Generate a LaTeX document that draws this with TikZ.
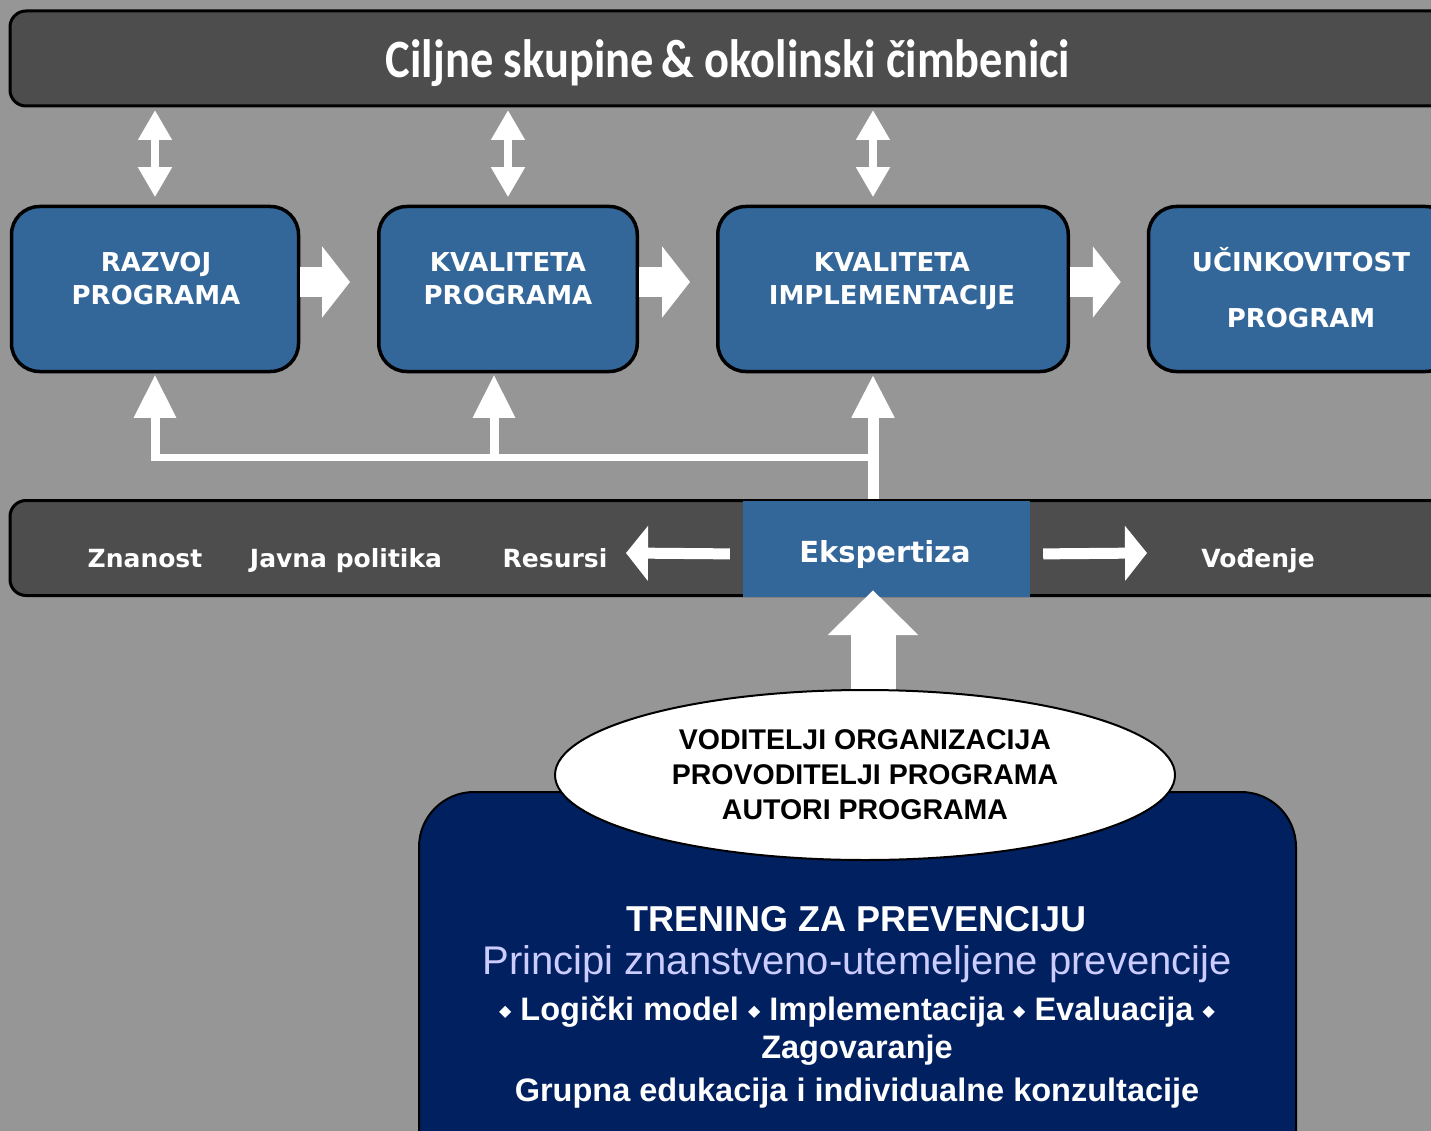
\documentclass[tikz,border=0pt]{standalone}
\usepackage{graphicx}
\usepackage{fontspec}
\setmainfont{Liberation Sans}
\newfontfamily\dejavu{DejaVu Sans}
\newfontfamily\carlito{Carlito}
\usetikzlibrary{arrows.meta,shapes.geometric}
\definecolor{bg}{HTML}{969696}
\definecolor{bar}{HTML}{4D4D4D}
\definecolor{steel}{HTML}{336699}
\definecolor{navy}{HTML}{002060}
\definecolor{lav}{HTML}{CCCCFF}
\begin{document}
\begin{tikzpicture}[x=1pt,y=-1pt,
  barbox/.style={draw=black,line width=3pt,fill=bar,rounded corners=16pt,inner sep=0pt,minimum height=95pt,minimum width=1470pt},
  stepbox/.style={draw=black,line width=3.5pt,fill=steel,rounded corners=28pt,inner sep=0pt,minimum height=165pt},
  boxtext/.style={text=white,font=\dejavu\bfseries\fontsize{26}{33}\selectfont,align=center,inner sep=0pt},
  bartext/.style={text=white,font=\dejavu\bfseries\fontsize{25}{30}\selectfont,inner sep=0pt,anchor=base},
  navytext/.style={text=white,font=\bfseries\fontsize{32.5}{38}\selectfont,inner sep=0pt,anchor=base},
  dbl/.style={draw=white,line width=8pt,{Triangle[width=32pt,length=30pt]}-{Triangle[width=32pt,length=30pt]}},
  blk/.style={draw=white,line width=30pt,-{Triangle[width=70pt,length=28pt]}},
  uparr/.style={draw=white,line width=9pt,-{Triangle[width=40pt,length=43pt]}},
  sidearr/.style={draw=white,line width=11pt,-{Triangle[width=54pt,length=22pt]}},
  bigarr/.style={draw=white,line width=45pt,-{Triangle[width=88pt,length=45pt]}},
  bus/.style={draw=white,line width=7pt}
]
\useasboundingbox (0,0) rectangle (1431,1131);
\clip (0,0) rectangle (1431,1131);
\fill[bg] (0,0) rectangle (1431,1131);

% top bar
\node[barbox] (top) at (745,58.5) {};
\node[text=white,font=\carlito\bfseries\fontsize{54}{60}\selectfont,inner sep=0pt,anchor=base] (title) at (728,78)
  {\scalebox{0.86}[1]{Ciljne skupine\,\& okolinski čimbenici}};

% middle bar
\node[barbox] (mid) at (745,548) {};
\node[fill=steel,minimum width=287pt,minimum height=96pt,inner sep=0pt] (Ek) at (886.5,549) {};
\node[bartext,font=\dejavu\bfseries\fontsize{29}{34}\selectfont] (ektext) at (885,562) {Ekspertiza};
\node[bartext] (zn) at (145,567) {Znanost};
\node[bartext] (jp) at (346,567) {Javna politika};
\node[bartext] (res) at (555,567) {Resursi};
\node[bartext] (vod) at (1258,567) {Vođenje};

% process boxes
\node[stepbox,minimum width=287pt] (b1) at (155,289) {};
\node[stepbox,minimum width=258.5pt] (b2) at (508,289) {};
\node[stepbox,minimum width=350.5pt] (b3) at (893,289) {};
\node[stepbox,minimum width=305pt] (b4) at (1301,289) {};
\node[boxtext] (t1) at (156,278.5) {RAZVOJ\\PROGRAMA};
\node[boxtext] (t2) at (508,278.5) {KVALITETA\\PROGRAMA};
\node[boxtext] (t3) at (892,281.5) {KVALITETA\\IMPLEMENTACIJE};
\node[boxtext] (t4) at (1301,287.5) {UČINKOVITOST\\[23pt]PROGRAM};

% coordinates of the bus
\coordinate (c1) at (155,457);
\coordinate (c2) at (494,457);
\coordinate (c3) at (873,457);

% double arrows
\draw[dbl,shorten <=2.5pt,shorten >=7.5pt] (top.south -| b1.north) -- (b1.north);
\draw[dbl,shorten <=2.5pt,shorten >=7.5pt] (top.south -| b2.north) -- (b2.north);
\draw[dbl,shorten <=2.5pt,shorten >=7.5pt] (top.south -| c3) -- (b3.north -| c3);

% block arrows between boxes
\draw[blk,shorten >=27pt] ([yshift=7pt]b1.east) -- ([yshift=7pt]b2.west);
\draw[blk,shorten >=26pt] ([yshift=7pt]b2.east) -- ([yshift=7pt]b3.west);
\draw[blk,shorten >=26pt] ([yshift=7pt]b3.east) -- ([yshift=7pt]b4.west);

% bus and up arrows
\draw[bus] ([xshift=-3.5pt]c1) -- (c3);
\draw[uparr,shorten >=1.5pt] ([yshift=-3.5pt]c1) -- (b1.south);
\draw[uparr,shorten >=1.5pt] ([yshift=-3.5pt]c2) -- (b2.south -| c2);
\draw[uparr,line width=11pt,shorten >=1.5pt] (mid.north -| c3) -- (b3.south -| c3);

% side arrows
\coordinate (lt) at (626,553);
\coordinate (rt) at (1147,553);
\draw[sidearr,shorten <=13pt] ([yshift=-5pt]Ek.west) -- (lt);
\draw[sidearr,shorten <=13pt] ([yshift=-5pt]Ek.east) -- (rt);

% navy training box
\node[draw=black,line width=2pt,fill=navy,rounded corners=55pt,minimum width=877pt,minimum height=416pt,inner sep=0pt] (nav) at (857.5,1000) {};

% ellipse with big arrow
\coordinate (eltop) at (873,690);
\draw[bigarr,shorten <=-14pt,shorten >=-7pt] (eltop) -- (Ek.south -| c3);
\node[draw=black,line width=2pt,fill=white,ellipse,minimum width=620pt,minimum height=170pt,inner sep=0pt,
      align=center,font=\bfseries\fontsize{28.5}{35}\selectfont] (ell) at (865,775)
  {VODITELJI ORGANIZACIJA\\PROVODITELJI PROGRAMA\\AUTORI PROGRAMA};

% navy texts
\newcommand{\dia}{{\dejavu\fontsize{16}{16}\selectfont\raisebox{4pt}{◆}}}
\node[navytext,font=\bfseries\fontsize{36}{40}\selectfont] (n1) at (857,931) {TRENING ZA PREVENCIJU};
\node[navytext,text=lav,font=\fontsize{40}{44}\selectfont] (n2) at (857,974) {Principi znanstveno-utemeljene prevencije};
\node[navytext] (n3) at (857,1020) {\dia{} Logički model \dia{} Implementacija \dia{} Evaluacija \dia};
\node[navytext] (n4) at (857,1058) {Zagovaranje};
\node[navytext] (n5) at (857,1101) {Grupna edukacija i individualne konzultacije};
\end{tikzpicture}
\end{document}
